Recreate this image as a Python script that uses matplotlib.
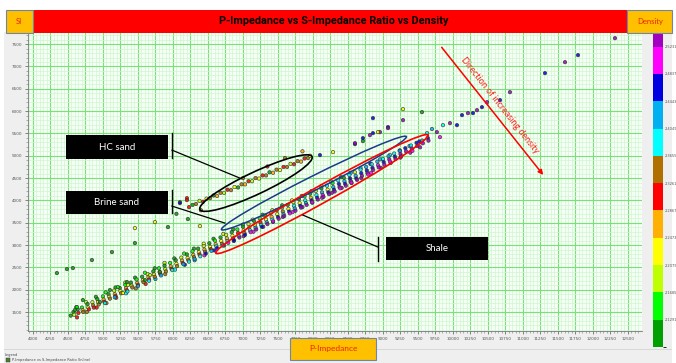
import matplotlib
matplotlib.use("Agg")
import matplotlib.pyplot as plt
import matplotlib as mpl
import numpy as np
from matplotlib.patches import Rectangle, Ellipse
from matplotlib.transforms import ScaledTranslation

# ---------------- data ----------------
# density class colours (bottom -> top of colour bar)
den_colors = ["#00A000", "#00FF00", "#C0FF00", "#FFFF00", "#FFB000", "#FF0000",
              "#B07000", "#00FFFF", "#00B0F0", "#0000E0", "#FF00FF", "#A000C0"]
den_bounds = [2.0897, 2.1291, 2.1685, 2.2079, 2.2473, 2.2867, 2.3261, 2.3655,
              2.4049, 2.4443, 2.4837, 2.5231, 2.5428]
den_labels = ["2.1291", "2.1685", "2.2079", "2.2473", "2.2867", "2.3261",
              "2.3655", "2.4049", "2.4443", "2.4837", "2.5231"]

x_ticks = list(range(4000, 12501, 250))
y_ticks = list(range(1500, 7501, 500))

# main trend (shale + brine sand): (P-Impedance, S-Impedance, density)
band_points = [
    (4540, 1420, 2.11), (4580, 1500, 2.11), (4590, 1440, 2.19), (4640, 1560, 2.11), (4650, 1480, 2.31),
    (4700, 1600, 2.15), (4710, 1540, 2.27), (4720, 1500, 2.35), (4780, 1680, 2.11), (4790, 1600, 2.23),
    (4800, 1560, 2.31), (4850, 1720, 2.19), (4860, 1650, 2.35), (4870, 1600, 2.31), (4920, 1790, 2.11),
    (4930, 1720, 2.23), (4940, 1670, 2.35), (5000, 1850, 2.15), (5010, 1780, 2.27), (5020, 1730, 2.31),
    (5030, 1700, 2.39), (5080, 1900, 2.11), (5090, 1840, 2.23), (5100, 1800, 2.35), (5160, 1980, 2.19),
    (5170, 1900, 2.27), (5180, 1860, 2.31), (5170, 1830, 2.42), (5240, 2040, 2.11), (5250, 1970, 2.23),
    (5260, 1920, 2.35), (5320, 2110, 2.15), (5330, 2030, 2.27), (5340, 1990, 2.31), (5350, 1960, 2.39),
    (5400, 2160, 2.11), (5410, 2090, 2.19), (5420, 2050, 2.35), (5480, 2230, 2.15), (5490, 2150, 2.27),
    (5500, 2110, 2.31), (5500, 2080, 2.42), (5560, 2290, 2.11), (5570, 2210, 2.23), (5580, 2170, 2.35),
    (5640, 2350, 2.19), (5650, 2280, 2.27), (5660, 2230, 2.31), (5660, 2200, 2.39), (5720, 2410, 2.11),
    (5730, 2340, 2.23), (5740, 2290, 2.35), (5800, 2480, 2.15), (5810, 2400, 2.27), (5820, 2350, 2.31),
    (5830, 2320, 2.42), (5880, 2540, 2.11), (5890, 2460, 2.19), (5900, 2410, 2.35), (5960, 2600, 2.15),
    (5970, 2520, 2.27), (5980, 2470, 2.31), (5990, 2440, 2.39), (6040, 2660, 2.11), (6050, 2580, 2.23),
    (6060, 2530, 2.35), (6120, 2720, 2.19), (6130, 2650, 2.27), (6140, 2600, 2.31), (6150, 2570, 2.42),
    (6200, 2790, 2.11), (6210, 2710, 2.23), (6220, 2660, 2.35), (6230, 2630, 2.39),
    (6280, 2860, 2.15), (6290, 2780, 2.27), (6300, 2730, 2.35), (6310, 2690, 2.42),
    (6360, 2920, 2.11), (6370, 2840, 2.23), (6380, 2790, 2.31), (6390, 2750, 2.39),
    (6440, 2980, 2.19), (6450, 2900, 2.27), (6460, 2850, 2.35), (6470, 2810, 2.46),
    (6520, 3040, 2.11), (6530, 2960, 2.23), (6540, 2910, 2.31), (6550, 2870, 2.42),
    (6600, 3100, 2.15), (6610, 3020, 2.27), (6620, 2970, 2.39), (6630, 2930, 2.46),
    (6680, 3170, 2.11), (6690, 3090, 2.23), (6700, 3030, 2.35), (6710, 2990, 2.42),
    (6760, 3230, 2.19), (6770, 3150, 2.27), (6780, 3090, 2.39), (6790, 3050, 2.50),
    (6840, 3290, 2.11), (6850, 3210, 2.23), (6860, 3150, 2.35), (6870, 3110, 2.46),
    (6920, 3350, 2.15), (6930, 3270, 2.31), (6940, 3210, 2.39), (6950, 3170, 2.53),
    (7000, 3410, 2.11), (7010, 3330, 2.23), (7020, 3270, 2.35), (7030, 3230, 2.46),
    (7080, 3470, 2.19), (7090, 3390, 2.27), (7100, 3330, 2.39), (7110, 3290, 2.50),
    (7160, 3540, 2.11), (7170, 3450, 2.23), (7180, 3390, 2.42), (7190, 3350, 2.53),
    (7240, 3600, 2.15), (7250, 3510, 2.31), (7260, 3450, 2.39), (7270, 3410, 2.46),
    (7320, 3660, 2.11), (7330, 3570, 2.23), (7340, 3510, 2.42), (7350, 3470, 2.53),
    (7400, 3720, 2.19), (7410, 3630, 2.27), (7420, 3570, 2.39), (7430, 3530, 2.50),
    (7480, 3780, 2.11), (7490, 3690, 2.23), (7500, 3630, 2.46), (7510, 3590, 2.53),
    (7560, 3840, 2.15), (7570, 3750, 2.35), (7580, 3690, 2.42), (7590, 3650, 2.53),
    (7640, 3900, 2.11), (7650, 3810, 2.23), (7660, 3750, 2.46), (7670, 3710, 2.50),
    (7720, 3960, 2.19), (7730, 3880, 2.39), (7740, 3820, 2.42), (7750, 3770, 2.53),
    (7800, 4030, 2.11), (7810, 3940, 2.23), (7820, 3880, 2.46), (7830, 3840, 2.53),
    (7880, 4090, 2.15), (7890, 4000, 2.39), (7900, 3940, 2.42), (7910, 3900, 2.53),
    (7960, 4150, 2.11), (7970, 4060, 2.27), (7980, 4000, 2.46), (7990, 3960, 2.50),
    (8040, 4210, 2.19), (8050, 4120, 2.39), (8060, 4060, 2.46), (8070, 4020, 2.53),
    (8120, 4270, 2.11), (8130, 4180, 2.42), (8140, 4120, 2.50), (8150, 4080, 2.53),
    (8200, 4330, 2.39), (8210, 4240, 2.23), (8220, 4180, 2.46), (8230, 4140, 2.53),
    (8280, 4390, 2.15), (8290, 4300, 2.42), (8300, 4240, 2.46), (8310, 4200, 2.53),
    (8360, 4450, 2.39), (8370, 4370, 2.46), (8380, 4300, 2.53), (8390, 4270, 2.50),
    (8440, 4510, 2.11), (8450, 4430, 2.42), (8460, 4370, 2.46), (8470, 4330, 2.53),
    (8520, 4570, 2.39), (8530, 4490, 2.46), (8540, 4430, 2.53), (8550, 4400, 2.50),
    (8600, 4630, 2.19), (8610, 4550, 2.42), (8620, 4490, 2.46), (8630, 4460, 2.53),
    (8680, 4690, 2.39), (8690, 4610, 2.46), (8700, 4550, 2.53),
    (8760, 4750, 2.42), (8770, 4670, 2.46), (8780, 4610, 2.53), (8790, 4580, 2.50),
    (8840, 4810, 2.39), (8850, 4730, 2.46), (8860, 4680, 2.53),
    (8920, 4870, 2.42), (8930, 4790, 2.50), (8940, 4740, 2.53),
    (9000, 4930, 2.39), (9010, 4860, 2.46), (9020, 4800, 2.53),
    (9080, 4990, 2.42), (9090, 4920, 2.53), (9100, 4870, 2.50),
    (9160, 5050, 2.39), (9170, 4980, 2.46), (9180, 4930, 2.53),
    (9240, 5110, 2.42), (9250, 5040, 2.53), (9260, 4990, 2.53),
    (9320, 5170, 2.46), (9330, 5100, 2.53), (9400, 5230, 2.39), (9410, 5160, 2.53), (9420, 5110, 2.50),
    (9480, 5290, 2.46), (9490, 5220, 2.53), (9560, 5340, 2.42), (9570, 5280, 2.53),
    (9640, 5400, 2.46), (9650, 5340, 2.53),
    (9630, 5507, 2.39), (9770, 5530, 2.53), (9857, 5686, 2.39), (9957, 5731, 2.53),
    (10057, 5686, 2.46), (9814, 5418, 2.50), (9700, 5600, 2.42),
]

# edges of the main trend (upper and lower fringe)
band_fringe = [
    (4620, 1610, 2.11), (4630, 1380, 2.31), (4760, 1720, 2.19), (4770, 1500, 2.35),
    (4900, 1840, 2.11), (4910, 1600, 2.31), (5040, 1940, 2.15), (5050, 1700, 2.35),
    (5180, 2050, 2.11), (5190, 1820, 2.31), (5320, 2160, 2.19), (5330, 1920, 2.39),
    (5460, 2270, 2.11), (5470, 2030, 2.35), (5600, 2380, 2.15), (5610, 2130, 2.31),
    (5740, 2480, 2.11), (5750, 2240, 2.42), (5880, 2600, 2.19), (5890, 2350, 2.35),
    (6020, 2700, 2.11), (6030, 2450, 2.39), (6160, 2810, 2.15), (6170, 2560, 2.46),
    (6300, 2920, 2.11), (6310, 2660, 2.42), (6440, 3030, 2.23), (6450, 2770, 2.50),
    (6580, 3140, 2.11), (6590, 2880, 2.46), (6720, 3250, 2.19), (6730, 2990, 2.53),
    (6860, 3350, 2.11), (6870, 3090, 2.46), (7000, 3460, 2.15), (7010, 3200, 2.53),
    (7140, 3570, 2.23), (7150, 3300, 2.50), (7280, 3680, 2.11), (7290, 3410, 2.53),
    (7420, 3780, 2.19), (7430, 3520, 2.46), (7560, 3890, 2.11), (7570, 3630, 2.53),
    (7700, 4000, 2.23), (7710, 3740, 2.50), (7840, 4100, 2.11), (7850, 3850, 2.53),
    (7980, 4210, 2.39), (7990, 3950, 2.53), (8120, 4320, 2.19), (8130, 4060, 2.50),
    (8260, 4420, 2.39), (8270, 4170, 2.53), (8400, 4520, 2.11), (8410, 4280, 2.53),
    (8540, 4620, 2.42), (8550, 4390, 2.53), (8680, 4720, 2.39), (8690, 4500, 2.53),
    (8820, 4820, 2.46), (8830, 4620, 2.50), (8960, 4920, 2.42), (8970, 4730, 2.53),
    (9100, 5020, 2.39), (9110, 4840, 2.53), (9240, 5120, 2.46), (9250, 4960, 2.53),
    (9380, 5220, 2.42), (9390, 5070, 2.53), (9520, 5320, 2.46), (9530, 5190, 2.53),
]

# hydrocarbon sand branch
hc_points = [
    (6230, 3850, 2.31), (6280, 3900, 2.11), (6330, 3920, 2.35), (6380, 3990, 2.19), (6430, 3970, 2.31),
    (6480, 4040, 2.23), (6530, 4050, 2.35), (6580, 4110, 2.11), (6630, 4100, 2.27), (6680, 4170, 2.35),
    (6730, 4170, 2.19), (6780, 4240, 2.31), (6830, 4230, 2.35), (6880, 4300, 2.23), (6930, 4290, 2.11),
    (6980, 4360, 2.35), (7030, 4360, 2.27), (7080, 4430, 2.31), (7130, 4430, 2.19), (7180, 4500, 2.35),
    (7230, 4490, 2.23), (7280, 4560, 2.31), (7330, 4560, 2.35), (7380, 4630, 2.11), (7430, 4620, 2.27),
    (7480, 4690, 2.35), (7530, 4680, 2.23), (7580, 4750, 2.31), (7630, 4750, 2.35), (7680, 4820, 2.19),
    (7730, 4810, 2.31), (7780, 4880, 2.35), (7830, 4870, 2.27), (7880, 4940, 2.31), (7930, 4950, 2.35),
    (7960, 5000, 2.23), (6100, 3960, 2.35), (6200, 4050, 2.31), (7000, 4500, 2.35), (7350, 4760, 2.31),
    (7600, 4950, 2.35), (7850, 5100, 2.27), (6050, 3700, 2.11), (6400, 3780, 2.35),
]

# scattered outliers
sparse_points = [
    (4343, 2373, 2.11), (4486, 2462, 2.11), (4571, 2485, 2.11), (4843, 2664, 2.11), (5129, 2843, 2.11),
    (5457, 3044, 2.11), (5457, 3380, 2.23), (5929, 3403, 2.11), (5743, 3515, 2.23),
    (5100, 1992, 2.11), (5214, 2060, 2.15), (5343, 2172, 2.11), (5357, 2105, 2.19), (4957, 1724, 2.11),
    (4714, 1768, 2.11), (4629, 1612, 2.15), (4600, 1544, 2.11), (5286, 1925, 2.23), (5600, 2216, 2.11),
    (5672, 2328, 2.19), (5814, 2395, 2.11),
    (6100, 3940, 2.46), (6200, 4007, 2.31), (6214, 3582, 2.11), (6386, 3425, 2.23),
    (8100, 5015, 2.46), (8286, 5082, 2.23), (8600, 5261, 2.46), (8714, 5328, 2.11), (8857, 5507, 2.46),
    (8957, 5530, 2.53), (9072, 5642, 2.46), (8600, 5283, 2.53), (8714, 5395, 2.46), (8814, 5462, 2.53),
    (8929, 5530, 2.23), (9072, 5619, 2.53), (8857, 5843, 2.46), (9286, 6045, 2.23), (9557, 5978, 2.11),
    (9286, 5798, 2.53), (10129, 5910, 2.46), (10214, 5955, 2.53), (10286, 5955, 2.46), (10343, 6022, 2.53),
    (10414, 6089, 2.46), (10486, 6201, 2.53), (10672, 6246, 2.46), (10814, 6425, 2.53),
    (11314, 6851, 2.46), (11600, 7097, 2.53), (11786, 7254, 2.46), (12314, 7634, 2.53),
]

# ---------------- figure ----------------
W, H = 676, 363
fig = plt.figure(figsize=(W / 100, H / 100), dpi=100)
fig.patch.set_facecolor("white")


def fx(px):
    return px / W


def fy(py):
    return 1 - py / H


# grey panel (behind everything)
fig.patches.append(Rectangle((fx(4), 0), fx(672) - fx(4), fy(32), transform=fig.transFigure,
                             facecolor="#EFEFEF", edgecolor="none", zorder=-5))
fig.patches.append(Rectangle((fx(4), fy(350)), fx(672) - fx(4), 0.003, transform=fig.transFigure,
                             facecolor="#D8D8D8", edgecolor="none", zorder=-4))

# header boxes
fig.patches.append(Rectangle((fx(33), fy(33)), fx(627) - fx(33), fy(10) - fy(33), transform=fig.transFigure,
                             facecolor="#FF0000", edgecolor="none", zorder=1))
fig.patches.append(Rectangle((fx(6), fy(33)), fx(33) - fx(6), fy(10) - fy(33), transform=fig.transFigure,
                             facecolor="#FFC000", edgecolor="#6A86A8", lw=0.8, zorder=2))
fig.patches.append(Rectangle((fx(627), fy(33)), fx(672) - fx(627), fy(10) - fy(33), transform=fig.transFigure,
                             facecolor="#FFC000", edgecolor="#6A86A8", lw=0.8, zorder=2))
fig.text(fx(334), fy(21.5), "P-Impedance vs S-Impedance Ratio vs Density", ha="center", va="center",
         fontsize=7.8, fontweight="bold", color="black",
         family=["Liberation Sans Narrow", "Roboto", "DejaVu Sans"], zorder=3)
fig.text(fx(19), fy(21.5), "SI", ha="center", va="center", fontsize=5.5, color="#F02000",
         family=["Lato", "DejaVu Sans"], zorder=3)
fig.text(fx(650), fy(21.5), "Density", ha="center", va="center", fontsize=5.5, color="#F02000",
         family=["Lato", "DejaVu Sans"], zorder=3)

# x-axis title box
fig.patches.append(Rectangle((fx(290), fy(360)), fx(376) - fx(290), fy(338) - fy(360), transform=fig.transFigure,
                             facecolor="#FFC000", edgecolor="#6A86A8", lw=0.8, zorder=2))
fig.text(fx(333), fy(349), "P-Impedance", ha="center", va="center", fontsize=6, color="#F02000",
         family=["Lato", "DejaVu Sans"], zorder=3)

# legend strip
fig.text(fx(5), fy(355), "Legend", ha="left", va="center", fontsize=2.6, color="#444444")
fig.patches.append(Rectangle((fx(6), fy(362)), 4 / W, 4 / H, transform=fig.transFigure,
                             facecolor="#4A7F3A", edgecolor="#333333", lw=0.3, zorder=2))
fig.text(fx(12), fy(360), "P-Impedance vs S-Impedance Ratio (Inline)", ha="left", va="center",
         fontsize=2.6, color="#444444")

# ---------------- main axes ----------------
ax = fig.add_axes([fx(28), fy(331), fx(642) - fx(28), fy(33) - fy(331)])
ax.set_zorder(1)
ax.set_facecolor("#F6FFF6")
ax.set_xlim(3930, 12700)
ax.set_ylim(1075, 7750)
ax.set_xticks(x_ticks)
ax.set_xticklabels([str(v) for v in x_ticks])
ax.set_yticks(y_ticks)
ax.set_yticklabels([str(v) for v in y_ticks])
ax.set_xticks(list(range(3950, 12700, 50)), minor=True)
ax.set_yticks(list(range(1100, 7750, 100)), minor=True)
ax.grid(which="minor", color="#CFF5CF", lw=0.5, zorder=0)
ax.grid(which="major", color="#78E278", lw=0.8, zorder=0)
ax.set_axisbelow(True)
ax.tick_params(axis="both", which="major", labelsize=3, colors="#555555", length=2.5, width=0.5, pad=1.5)
ax.tick_params(axis="both", which="minor", length=1.2, width=0.4, colors="#777777")
for s in ["top", "right"]:
    ax.spines[s].set_visible(False)
for s in ["left", "bottom"]:
    ax.spines[s].set_color("#777777")
    ax.spines[s].set_linewidth(0.6)

cmap = mpl.colors.ListedColormap(den_colors)
norm = mpl.colors.BoundaryNorm(den_bounds, cmap.N)

for pts in (band_fringe, band_points, hc_points, sparse_points):
    arr = np.array(pts)
    ax.scatter(arr[:, 0], arr[:, 1], c=arr[:, 2], cmap=cmap, norm=norm, s=6, marker="o",
               edgecolors="#2E2E2E", linewidths=0.5, alpha=0.85, zorder=3)


def px_ellipse(cx, cy, wpx, hpx, ang, color, lw):
    tr = fig.dpi_scale_trans + ScaledTranslation(cx, cy, ax.transData)
    e = Ellipse((0, 0), wpx / 100, hpx / 100, angle=ang, transform=tr, fill=False,
                edgecolor=color, lw=lw, zorder=5)
    ax.add_patch(e)


px_ellipse(7186, 4388, 124, 22, 25.3, "black", 1.2)
px_ellipse(8014, 4388, 207, 14, 26.7, "#1C3A8A", 1.1)
px_ellipse(8129, 4142, 243, 17, 29.1, "#FF0000", 1.2)

# annotation boxes
box_specs = [("HC sand", 4471, 4925, 5463, 5986, 4948, 5507, (5986, 5127), (6957, 4500)),
             ("Brine sand", 4471, 3694, 4209, 5986, 3716, 4231, (5986, 3873), (6743, 3492)),
             ("Shale", 9043, 2664, 3179, 8929, 2641, 3179, (8929, 2955), (7857, 3671))]
for label, x0, y0, y1, vx, vy0, vy1, p0, p1 in box_specs:
    x1 = x0 + 1457
    ax.add_patch(Rectangle((x0, y0), x1 - x0, y1 - y0, facecolor="black", edgecolor="none", zorder=6))
    ax.text((x0 + x1) / 2, (y0 + y1) / 2, label, ha="center", va="center", color="white",
            fontsize=7, family=["Lato", "DejaVu Sans"], zorder=7)
    ax.plot([vx, vx], [vy0, vy1], color="black", lw=1.0, zorder=6)
    ax.plot([p0[0], p1[0]], [p0[1], p1[1]], color="black", lw=0.9, zorder=6)

# density direction arrow
ax.annotate("", xy=(11314, 4522), xytext=(9814, 7478),
            arrowprops=dict(arrowstyle="-|>", color="#FF0000", lw=1.1, mutation_scale=7), zorder=6)
ax.text(10672, 6134, "Direction of increasing density", rotation=-51.7, rotation_mode="anchor",
        ha="center", va="center", color="#FF2020", fontsize=6.5, family=["Lato", "DejaVu Sans"],
        zorder=6)

# ---------------- colour bar ----------------
cax = fig.add_axes([fx(653), fy(347), fx(663) - fx(653), fy(33) - fy(347)])
cax.set_zorder(1)
cb = mpl.colorbar.ColorbarBase(cax, cmap=cmap, norm=norm, boundaries=den_bounds,
                               spacing="proportional", orientation="vertical")
cb.set_ticks(den_bounds[1:-1])
cb.set_ticklabels(den_labels)
cb.outline.set_visible(False)
cax.tick_params(labelsize=2.6, colors="#555555", length=0, pad=1)

fig.savefig("out.png", dpi=100, facecolor=fig.get_facecolor())
